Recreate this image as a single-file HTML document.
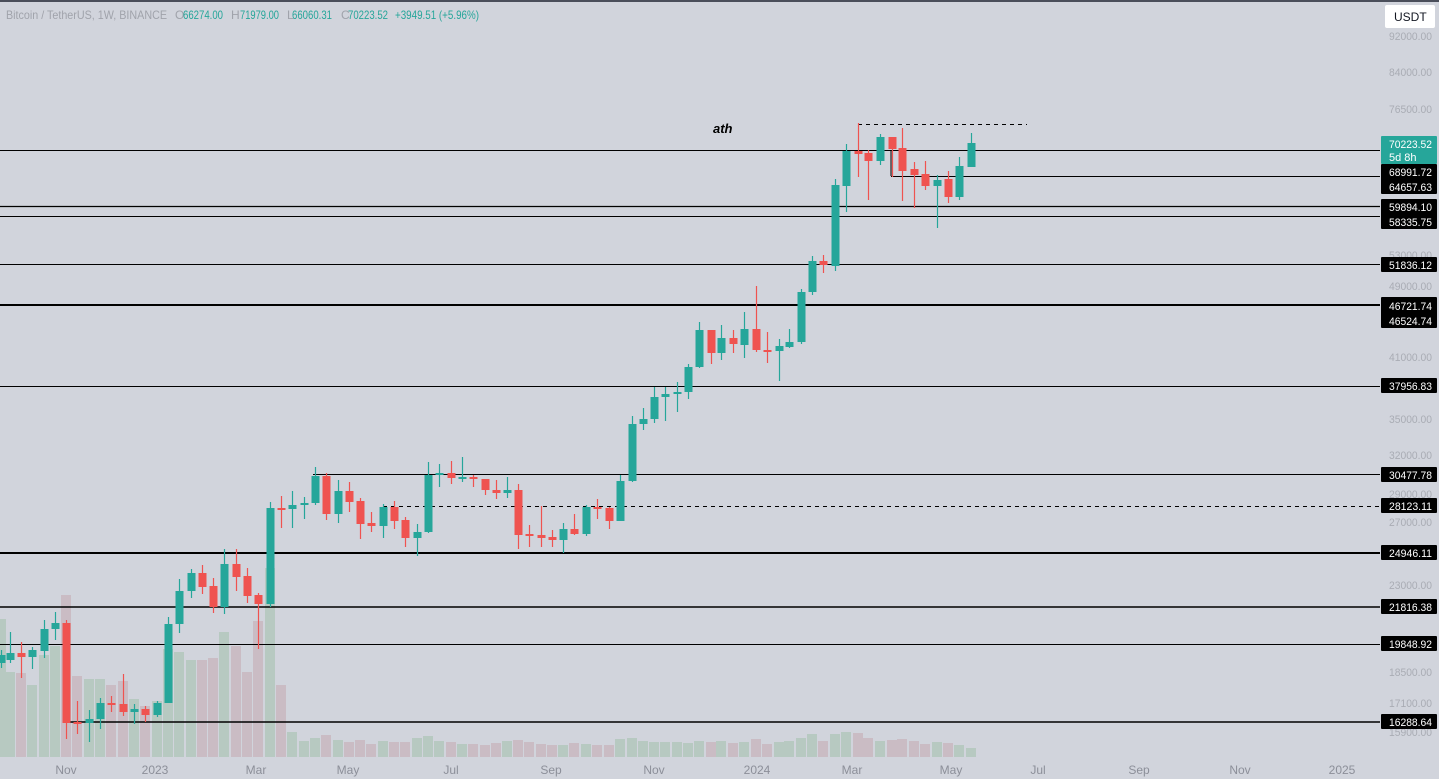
<!DOCTYPE html>
<html><head><meta charset="utf-8"><style>
html,body{margin:0;padding:0;background:#d1d4dc;overflow:hidden}
svg{display:block;font-family:"Liberation Sans",sans-serif}
</style></head><body>
<svg id="s" width="1439" height="779" viewBox="0 0 1439 779" xmlns="http://www.w3.org/2000/svg">
<rect width="1439" height="779" fill="#d1d4dc"/>
<rect width="1439" height="2" fill="#4a4e5a"/>
<g id="vol"></g>
<g id="lines" stroke="#000" fill="none">
<line x1="0" y1="150.5" x2="1380" y2="150.5" stroke-width="1"/>
<line x1="891" y1="176.5" x2="1380" y2="176.5" stroke-width="1"/>
<line x1="891" y1="176" x2="891" y2="150" stroke-width="1"/>
<line x1="0" y1="206.5" x2="1380" y2="206.5" stroke-width="1.3"/>
<line x1="0" y1="216.5" x2="1380" y2="216.5" stroke-width="1"/>
<line x1="0" y1="264.5" x2="1380" y2="264.5" stroke-width="1"/>
<line x1="0" y1="305" x2="1380" y2="305" stroke-width="2"/>
<line x1="0" y1="386.5" x2="1380" y2="386.5" stroke-width="1"/>
<line x1="313" y1="474.5" x2="1380" y2="474.5" stroke-width="1"/>
<line x1="383" y1="506.5" x2="1380" y2="506.5" stroke-width="1" stroke-dasharray="4,4"/>
<line x1="0" y1="553" x2="1380" y2="553" stroke-width="2"/>
<line x1="0" y1="607" x2="1380" y2="607" stroke-width="1.5"/>
<line x1="0" y1="644.5" x2="1380" y2="644.5" stroke-width="1"/>
<line x1="66" y1="722" x2="1380" y2="722" stroke-width="1.5"/>
<line x1="858" y1="124.5" x2="1027" y2="124.5" stroke-width="1" stroke-dasharray="4,4"/>
</g>
<g id="candles"></g>
<text x="713" y="133" font-size="13" font-weight="bold" font-style="italic" fill="#000">ath</text>
<g font-size="12" fill="#a0a3ab">
<text x="6" y="19" textLength="161" lengthAdjust="spacingAndGlyphs">Bitcoin / TetherUS, 1W, BINANCE</text>
<text x="175" y="19">O</text><text x="183" y="19" fill="#26a69a" textLength="40" lengthAdjust="spacingAndGlyphs">66274.00</text>
<text x="231" y="19">H</text><text x="240" y="19" fill="#26a69a" textLength="39" lengthAdjust="spacingAndGlyphs">71979.00</text>
<text x="287" y="19">L</text><text x="292" y="19" fill="#26a69a" textLength="40" lengthAdjust="spacingAndGlyphs">66060.31</text>
<text x="341" y="19">C</text><text x="348" y="19" fill="#26a69a" textLength="40" lengthAdjust="spacingAndGlyphs">70223.52</text>
<text x="395" y="19" fill="#26a69a" textLength="84" lengthAdjust="spacingAndGlyphs">+3949.51 (+5.96%)</text>
</g>
<rect x="1385" y="5" width="50" height="23" rx="2" fill="#fff"/>
<text x="1394" y="21" font-size="12" fill="#131722">USDT</text>
<g id="ticks" font-size="11" fill="#a9acb4"></g>
<g id="labels"></g>
<g font-size="12" fill="#8c8f99" text-anchor="middle">
<text x="66" y="774">Nov</text><text x="155" y="774">2023</text><text x="256" y="774">Mar</text>
<text x="348" y="774">May</text><text x="451" y="774">Jul</text><text x="551" y="774">Sep</text>
<text x="654" y="774">Nov</text><text x="757" y="774">2024</text><text x="852" y="774">Mar</text>
<text x="951" y="774">May</text><text x="1038" y="774">Jul</text><text x="1139" y="774">Sep</text>
<text x="1240" y="774">Nov</text><text x="1342" y="774">2025</text>
</g>
</svg>
<script>
var NS="http://www.w3.org/2000/svg";
function el(p,t,a,txt){var e=document.createElementNS(NS,t);for(var k in a)e.setAttribute(k,a[k]);if(txt)e.textContent=txt;p.appendChild(e);return e;}
var C=[
[1,663,655,650,668],[10,660,653,632,663],[21,653,657,642,678],[32,657,650,647,669],[44,651,629,620,658],[55,629,623,612,640],
[66,623,723,620,739],[77,722,723,701,734],[89,723,719,710,742],[100,719,703,698,729],[111,703,704,696,712],[123,704,712,674,716],
[134,712,709,704,724],[145,709,715,706,722],[157,715,703,701,717],[168,703,624,617,703],[179,624,591,579,633],[191,591,573,569,598],
[202,573,587,565,594],[213,586,607,578,613],[224,607,564,549,614],[236,564,577,549,591],[247,576,596,568,603],[258,595,604,593,649],
[270,604,508,502,607],[281,508,509,496,528],[292,509,505,491,528],[304,505,503,497,519],[315,503,476,467,505],[326,476,514,473,520],
[338,514,491,480,523],[349,491,502,482,512],[360,501,524,498,539],[371,523,526,512,532],[383,526,507,504,538],[394,507,521,501,529],
[405,520,538,517,547],[417,538,532,524,556],[428,532,475,462,533],[439,474,473,464,487],[451,473,478,461,484],[462,478,477,457,482],
[473,477,479,475,487],[485,479,490,479,495],[496,490,493,480,499],[507,493,490,477,498],[518,490,535,484,549],[529,534,536,525,547],
[541,535,538,506,547],[552,537,540,530,547],[563,540,529,523,553],[574,529,534,514,535],[586,534,507,505,536],[597,507,508,499,519],
[609,508,521,507,529],[620,521,481,475,521],[632,481,424,416,482],[643,424,419,408,430],[654,419,397,387,423],[665,397,394,387,421],
[677,394,392,382,412],[688,392,367,364,399],[699,367,330,322,368],[711,330,353,330,364],[721,353,338,325,360],[733,338,344,330,353],
[744,345,329,312,358],[756,329,350,286,352],[767,350,351,332,363],[779,351,346,339,381],[789,347,342,329,348],[801,342,292,289,344],
[812,292,261,256,295],[823,261,265,255,273],[835,266,185,179,271],[846,186,151,144,212],[858,151,154,123,177],[868,153,161,150,200],
[880,161,137,134,165],[892,137,149,137,177],[902,148,171,128,201],[914,169,175,162,208],[925,174,186,161,190],[937,186,180,175,228],
[948,179,197,171,203],[959,197,166,157,200],[971,167,143,133,167]];
var V=[619,672,673,685,655,646,595,676,679,679,685,681,699,706,701,649,652,660,660,658,632,646,672,621,568,685,732,741,738,735,
740,742,740,744,741,742,742,738,736,741,742,744,744,745,743,741,740,742,744,745,745,743,744,745,745,739,738,741,742,742,
742,743,741,742,741,743,742,739,744,742,741,738,734,741,734,732,733,738,741,740,739,741,744,742,743,745,748];
var vg=document.getElementById("vol"),cg=document.getElementById("candles");
for(var i=0;i<C.length;i++){var c=C[i],up=c[2]<c[1];var vt=V[i]||745;
 el(vg,"rect",{x:c[0]-5,y:vt,width:10,height:757-vt,fill:up?"#b7c9c1":"#cabcc4"});}
for(var i=0;i<C.length;i++){var c=C[i],up=c[2]<c[1],col=up?"#26a69a":"#ef5350";
 el(cg,"line",{x1:c[0]+.5,x2:c[0]+.5,y1:c[3],y2:c[4],stroke:col,"stroke-width":1.2});
 var t=Math.min(c[1],c[2]),h=Math.max(2,Math.abs(c[1]-c[2]));
 el(cg,"rect",{x:c[0]-3.5,y:t,width:8,height:h,fill:col});}
var tg=document.getElementById("ticks");
[[40,"92000.00"],[76,"84000.00"],[113,"76500.00"],[259,"53000.00"],[290,"49000.00"],[361,"41000.00"],[423,"35000.00"],[459,"32000.00"],[498,"29000.00"],[526,"27000.00"],[589,"23000.00"],[676,"18500.00"],[707,"17100.00"],[736,"15900.00"]].forEach(function(a){
 el(tg,"text",{x:1389,y:a[0],textLength:43,lengthAdjust:"spacingAndGlyphs"},a[1]);});
var lg=document.getElementById("labels");
function box(y1,y2,lines,fill){el(lg,"rect",{x:1381,y:y1,width:56,height:y2-y1,fill:fill,rx:1});
 for(var j=0;j<lines.length;j++){var a={x:1389,y:lines[j][1],"font-size":11,fill:"#fff"};if(lines[j][0].length>6){a.textLength=43;a.lengthAdjust="spacingAndGlyphs";}el(lg,"text",a,lines[j][0]);}}
box(136,164,[["70223.52",148],["5d 8h",161]],"#26a69a");
box(164,194,[["68991.72",176],["64657.63",191]],"#000");
box(199,229,[["59894.10",211],["58335.75",226]],"#000");
box(257,272,[["51836.12",269]],"#000");
box(297,328,[["46721.74",310],["46524.74",325]],"#000");
[[386,"37956.83"],[475,"30477.78"],[506,"28123.11"],[553,"24946.11"],[607,"21816.38"],[644,"19848.92"],[722,"16288.64"]].forEach(function(a){box(a[0]-8,a[0]+7,[[a[1],a[0]+4]],"#000");});
</script>
</body></html>
